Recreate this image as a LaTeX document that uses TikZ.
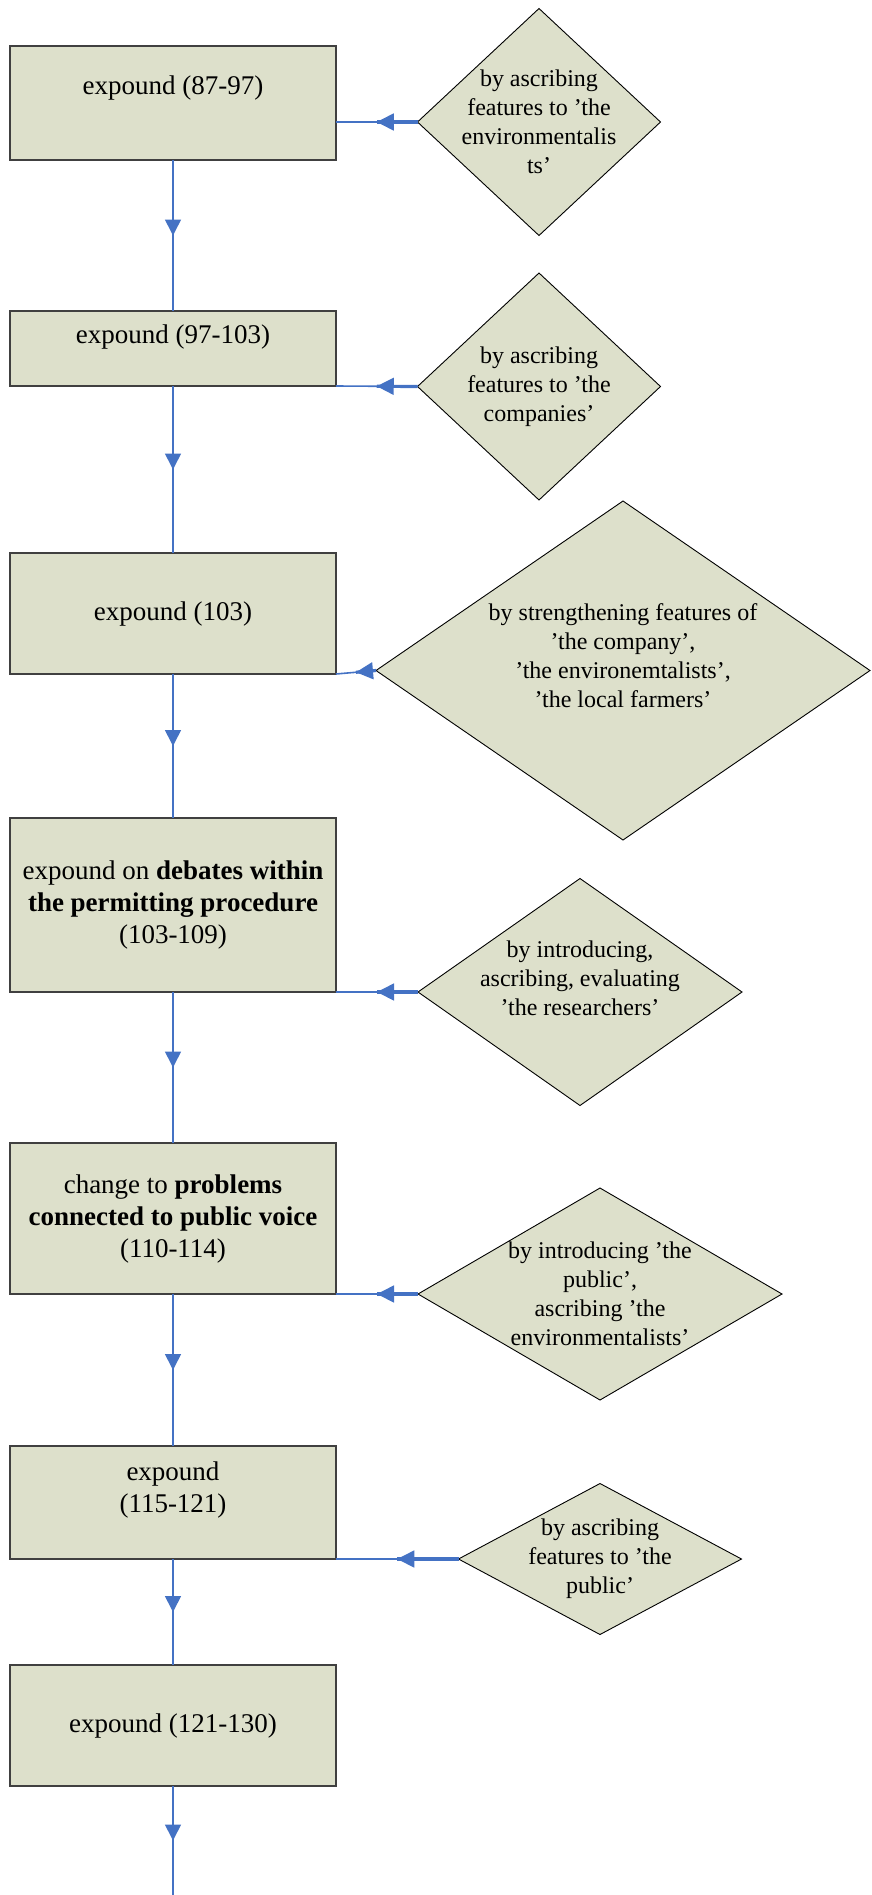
\documentclass[tikz,border=0pt]{standalone}
\usepackage{fontspec}
\setmainfont{Liberation Serif}
\usetikzlibrary{shapes.geometric,arrows.meta,decorations.markings,calc}
\definecolor{boxfill}{RGB}{221,224,203}
\definecolor{flowblue}{RGB}{68,114,196}
\definecolor{boxline}{RGB}{64,64,64}
\newcommand\boxfont{\fontsize{27}{32}\selectfont}
\newcommand\diafont{\fontsize{24}{29}\selectfont}
\begin{document}
\begin{tikzpicture}[x=1pt,y=-1pt,
  procbox/.style={draw=boxline, line width=1.5pt, fill=boxfill, minimum width=326pt, inner sep=0pt, outer sep=0pt, align=center, font=\boxfont},
  decbox/.style={diamond, draw=black, line width=0.9pt, fill=boxfill, inner sep=0pt, outer sep=0pt},
  flow/.style={draw=flowblue, line width=1.6pt, postaction={decorate}, decoration={markings, mark=at position 0.5 with {\arrow[color=flowblue]{Triangle[width=16pt,length=16pt]}}}},
  sideflow/.style={draw=flowblue, line width=1.6pt, postaction={decorate}, decoration={markings, mark=at position 0.5 with {\arrow[color=flowblue]{Triangle[width=17pt,length=17pt]}}}},
  feedpart/.style={draw=flowblue, line width=3.2pt},
  dtext/.style={font=\diafont, align=center},
  btext/.style={font=\boxfont, align=center}]
\useasboundingbox (0,0) rectangle (871,1895);

% process boxes
\node[procbox, minimum height=114pt, label={[btext, yshift=15pt]center:expound (87-97)}] (b1) at (173,103) {};
\node[procbox, minimum height=75pt, label={[btext, yshift=11.5pt]center:expound (97-103)}] (b2) at (173,348.5) {};
\node[procbox, minimum height=121pt] (b3) at (173,613.5) {expound (103)};
\node[procbox, minimum height=174pt] (b4) at (173,905) {expound on \textbf{debates within}\\\textbf{the permitting procedure}\\(103-109)};
\node[procbox, minimum height=151pt] (b5) at (173,1218.5) {change to \textbf{problems}\\\textbf{connected to public voice}\\(110-114)};
\node[procbox, minimum height=113pt, label={[btext, yshift=12.5pt]center:expound\\(115-121)}] (b6) at (173,1502.5) {};
\node[procbox, minimum height=121pt] (b7) at (173,1725.5) {expound (121-130)};

% decision diamonds
\node[decbox, minimum width=243pt, minimum height=227pt, label={[dtext]center:by ascribing\\features to 'the\\environmentalis\\ts'}] (d1) at (539,122) {};
\node[decbox, minimum width=243pt, minimum height=227pt, label={[dtext]center:by ascribing\\features to 'the\\companies'}] (d2) at (539,386.5) {};
\node[decbox, minimum width=494pt, minimum height=339pt, label={[dtext, yshift=14.5pt]center:by strengthening features of\\'the company',\\'the environemtalists',\\'the local farmers'}] (d3) at (623,670.5) {};
\node[decbox, minimum width=324pt, minimum height=227pt, label={[dtext, yshift=13.5pt]center:by introducing,\\ascribing, evaluating\\'the researchers'}] (d4) at (580,992) {};
\node[decbox, minimum width=364pt, minimum height=212pt, label={[dtext]center:by introducing 'the\\public',\\ascribing 'the\\environmentalists'}] (d5) at (600,1294) {};
\node[decbox, minimum width=283pt, minimum height=151pt, label={[dtext]center:by ascribing\\features to 'the\\public'}] (d6) at (600,1559) {};

\coordinate (bottomend) at (173,1895);
\coordinate (e1) at (b1.east |- d1.west);

% vertical flow
\draw[flow] (b1.south) -- (b2.north);
\draw[flow] (b2.south) -- (b3.north);
\draw[flow] (b3.south) -- (b4.north);
\draw[flow] (b4.south) -- (b5.north);
\draw[flow] (b5.south) -- (b6.north);
\draw[flow] (b6.south) -- (b7.north);
\draw[flow] (b7.south) -- (bottomend);

% side inputs (heavier half next to the diamond)
\draw[feedpart] (d1.west) -- ($(d1.west)!0.5!(e1)$);
\draw[feedpart] (d2.west) -- ($(d2.west)!0.5!(b2.south east)$);
\draw[feedpart] (d3.west) -- ($(d3.west)!0.5!(b3.south east)$);
\draw[feedpart] (d4.west) -- ($(d4.west)!0.5!(b4.south east)$);
\draw[feedpart] (d5.west) -- ($(d5.west)!0.5!(b5.south east)$);
\draw[feedpart] (d6.west) -- ($(d6.west)!0.5!(b6.south east)$);
\draw[sideflow] (d1.west) -- (e1);
\draw[sideflow] (d2.west) -- (b2.south east);
\draw[sideflow] (d3.west) -- (b3.south east);
\draw[sideflow] (d4.west) -- (b4.south east);
\draw[sideflow] (d5.west) -- (b5.south east);
\draw[sideflow] (d6.west) -- (b6.south east);
\end{tikzpicture}
\end{document}
